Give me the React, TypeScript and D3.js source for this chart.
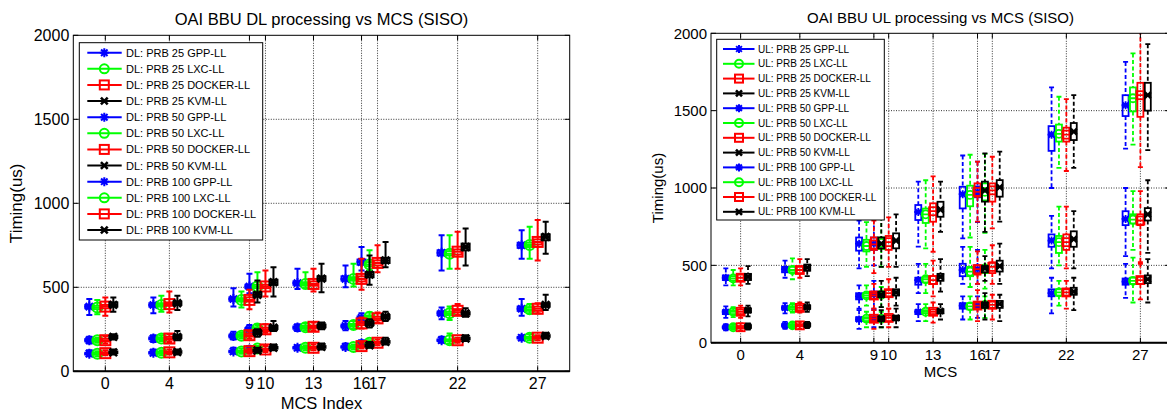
import React from 'react';
import * as d3 from 'd3';

// ---------------- data ----------------
const MCS_VALUES = [0, 4, 9, 10, 13, 16, 17, 22, 27];
const Y_TICKS = [0, 500, 1000, 1500, 2000];
const PRB_LEVELS = [25, 50, 100];
const PLATFORMS = ['GPP-LL', 'LXC-LL', 'DOCKER-LL', 'KVM-LL'];
const PLATFORM_COLORS = ['#0000ff', '#00ff00', '#ff0000', '#000000'];
const PLATFORM_OFFSETS = [-1, -0.5, 0, 0.5];

// each box: [whiskerLow, q1, median, q3, whiskerHigh], one per MCS value
// ---- DL ----
const DL_PRB25_GPP = [[90,100,105,110,125],[95,105,110,115,130],[105,113,118,123,140],[115,125,130,135,150],[125,135,140,145,155],[130,140,145,150,165],[150,160,165,170,185],[170,180,185,190,205],[185,195,200,205,215]];
const DL_PRB25_LXC = [[90,100,105,110,120],[95,105,110,115,125],[105,113,118,123,135],[120,130,135,140,150],[125,135,140,145,155],[130,140,145,150,160],[155,165,170,175,185],[165,180,185,190,225],[185,195,200,205,220]];
const DL_PRB25_DOCKER = [[95,103,108,113,125],[100,108,113,118,130],[105,115,120,125,135],[115,125,130,135,150],[125,135,140,145,160],[135,145,150,155,170],[155,165,170,175,190],[170,180,185,190,200],[185,195,200,205,215]];
const DL_PRB25_KVM = [[100,108,113,118,130],[100,110,115,120,130],[110,118,123,128,140],[125,135,140,145,160],[130,140,145,150,165],[140,150,155,160,175],[160,170,175,180,200],[180,190,195,200,215],[195,205,210,215,230]];

const DL_PRB50_GPP = [[165,178,185,192,205],[175,190,195,202,215],[190,202,210,218,235],[225,242,250,258,275],[240,253,260,267,280],[245,262,270,278,300],[290,310,318,326,345],[310,335,345,355,380],[330,360,372,385,430]];
const DL_PRB50_LXC = [[170,178,185,192,200],[180,190,195,202,215],[195,205,212,220,230],[235,245,255,262,275],[245,255,262,270,285],[255,268,275,282,300],[305,315,325,332,350],[305,335,345,355,385],[345,360,370,382,400]];
const DL_PRB50_DOCKER = [[165,178,185,195,210],[175,188,195,205,220],[195,208,215,225,240],[230,240,250,260,280],[245,258,265,272,290],[255,275,285,295,320],[290,305,315,325,350],[335,350,360,370,400],[345,360,372,385,405]];
const DL_PRB50_KVM = [[190,198,205,212,220],[185,198,205,215,240],[205,222,230,240,250],[240,252,260,270,300],[250,262,270,278,290],[260,275,285,295,310],[300,315,325,335,355],[325,338,345,352,375],[365,385,395,405,455]];

const DL_PRB100_GPP = [[335,375,385,395,430],[345,385,395,405,440],[385,420,430,440,495],[465,495,505,515,580],[490,515,525,535,610],[500,540,550,565,630],[600,635,650,665,740],[600,690,705,720,810],[670,735,750,765,840]];
const DL_PRB100_LXC = [[340,370,380,390,425],[355,385,395,405,450],[380,415,425,435,475],[470,495,505,515,590],[495,510,520,530,590],[505,540,550,560,640],[600,625,635,650,720],[610,690,700,715,810],[670,740,752,765,860]];
const DL_PRB100_DOCKER = [[330,375,385,395,440],[350,390,400,410,475],[370,415,425,440,485],[445,495,505,515,600],[475,510,520,535,610],[485,535,550,565,670],[590,630,645,660,750],[610,695,712,725,830],[660,755,770,785,900]];
const DL_PRB100_KVM = [[355,385,395,410,440],[365,395,405,415,450],[410,445,455,470,540],[445,515,530,545,620],[470,540,552,565,640],[515,560,575,590,690],[620,645,660,675,770],[630,720,740,760,850],[700,780,800,815,890]];

// ---- UL ----
const UL_PRB25_GPP = [[80,93,100,107,120],[90,105,112,120,135],[90,140,150,165,210],[100,140,155,170,210],[140,185,200,210,250],[150,220,240,255,300],[160,225,245,260,300],[190,300,320,345,420],[290,375,395,415,510]];
const UL_PRB25_LXC = [[85,93,100,107,115],[95,105,112,120,130],[100,140,155,165,200],[100,145,155,170,200],[140,190,200,210,250],[150,215,235,255,300],[160,230,245,260,300],[240,305,325,345,400],[260,380,400,420,550]];
const UL_PRB25_DOCKER = [[80,93,100,108,125],[90,105,112,120,135],[90,140,155,170,210],[100,140,160,175,220],[130,185,200,215,260],[140,220,240,260,340],[150,225,245,265,310],[220,305,325,345,400],[280,380,405,425,510]];
const UL_PRB25_KVM = [[85,97,105,112,125],[95,108,115,122,135],[100,140,155,170,210],[100,145,160,175,220],[150,190,205,215,250],[150,225,245,260,320],[140,225,250,270,310],[210,310,330,355,420],[260,385,410,435,540]];

const UL_PRB50_GPP = [[160,185,200,210,235],[190,215,225,235,255],[220,280,300,320,370],[220,300,315,330,400],[320,375,405,420,510],[380,430,470,510,620],[380,450,475,500,600],[480,620,660,700,820],[560,760,800,850,1000]];
const UL_PRB50_LXC = [[165,185,200,210,230],[195,215,225,235,255],[240,290,305,320,370],[230,300,310,325,360],[320,390,410,425,510],[360,430,460,490,620],[350,450,480,495,600],[500,580,650,690,880],[600,770,795,830,980]];
const UL_PRB50_DOCKER = [[160,185,200,215,240],[195,210,225,240,260],[220,285,305,320,380],[220,300,320,340,410],[300,380,405,430,530],[380,440,475,500,590],[380,450,490,520,630],[480,600,650,700,880],[520,760,790,830,980]];
const UL_PRB50_KVM = [[170,195,210,220,240],[200,220,230,240,260],[230,295,310,330,400],[240,305,325,345,420],[330,400,425,445,540],[400,455,480,495,560],[380,460,495,530,640],[480,620,670,720,850],[580,790,830,870,1050]];

const UL_PRB100_GPP = [[370,405,420,435,480],[420,455,475,490,530],[480,595,640,680,790],[500,600,640,680,800],[621,793,845,890,1041],[675,868,960,1008,1210],[780,940,975,1010,1170],[1000,1240,1345,1400,1650],[1255,1465,1535,1600,1815]];
const UL_PRB100_LXC = [[370,400,415,430,470],[410,455,470,490,545],[490,590,625,665,780],[490,605,645,680,815],[610,774,830,867,1050],[680,882,955,1015,1215],[710,920,975,1030,1220],[1130,1300,1350,1410,1590],[1280,1495,1580,1650,1870]];
const UL_PRB100_DOCKER = [[370,400,420,440,480],[420,450,470,490,540],[450,600,635,680,790],[490,600,650,690,810],[588,782,850,901,1075],[782,944,975,1030,1170],[739,912,985,1030,1202],[1110,1300,1345,1390,1575],[1135,1460,1600,1680,2100]];
const UL_PRB100_KVM = [[380,405,425,445,495],[430,465,485,505,540],[490,610,640,680,815],[490,610,660,707,829],[717,814,860,911,1041],[717,912,985,1041,1224],[782,944,1005,1051,1235],[1130,1310,1365,1420,1600],[1245,1500,1600,1680,1930]];

const DL_SERIES = [
  [DL_PRB25_GPP, DL_PRB25_LXC, DL_PRB25_DOCKER, DL_PRB25_KVM],
  [DL_PRB50_GPP, DL_PRB50_LXC, DL_PRB50_DOCKER, DL_PRB50_KVM],
  [DL_PRB100_GPP, DL_PRB100_LXC, DL_PRB100_DOCKER, DL_PRB100_KVM],
];
const UL_SERIES = [
  [UL_PRB25_GPP, UL_PRB25_LXC, UL_PRB25_DOCKER, UL_PRB25_KVM],
  [UL_PRB50_GPP, UL_PRB50_LXC, UL_PRB50_DOCKER, UL_PRB50_KVM],
  [UL_PRB100_GPP, UL_PRB100_LXC, UL_PRB100_DOCKER, UL_PRB100_KVM],
];

// ---------------- layout ----------------
const FONT = '"Liberation Sans", Arial, Helvetica, sans-serif';

const DL_CFG = {
  id: 'dl', prefix: 'DL', left: 73.3, right: 569.7, top: 35.3, bottom: 371.3,
  title: 'OAI BBU DL processing vs MCS (SISO)', xlabel: 'MCS Index',
  titleSize: 16.5, tickSize: 16, labelSize: 16.5, ylabelSize: 17,
  titleY: 24.5, xTickY: 389, xlabelY: 408.5, ylabelX: 22,
  legend: { x: 79.3, y: 42.7, w: 183.4, h: 197.3, first: 52.7, step: 16.12, font: 11, ms: 9,
            lx1: 8, lx2: 42.4, mx: 25, tx: 46.7 },
  boxW: 8, capW: 3, sw: 2, ms: 10, dashed: false,
};
const UL_CFG = {
  id: 'ul', prefix: 'UL', left: 711, right: 1170, top: 33.3, bottom: 342.7,
  title: 'OAI BBU UL processing vs MCS (SISO)', xlabel: 'MCS',
  titleSize: 15, tickSize: 15, labelSize: 15, ylabelSize: 15,
  titleY: 22.5, xTickY: 359.5, xlabelY: 377, ylabelX: 663,
  legend: { x: 716.7, y: 39.3, w: 167.6, h: 180.7, first: 49, step: 14.8, font: 10, ms: 8,
            lx1: 6.3, lx2: 37.8, mx: 22.3, tx: 41.3 },
  boxW: 6, capW: 2.5, sw: 1.8, ms: 8, dashed: true,
};

function Marker({ kind, cx, cy, size, color, sw }: any) {
  const h = size / 2;
  if (kind === 0) {
    const d = h * 0.72;
    return (
      <path
        d={`M${cx - h},${cy}L${cx + h},${cy}M${cx},${cy - h}L${cx},${cy + h}M${cx - d},${cy - d}L${cx + d},${cy + d}M${cx - d},${cy + d}L${cx + d},${cy - d}`}
        stroke={color} strokeWidth={sw} fill="none"
      />
    );
  }
  if (kind === 1) return <circle cx={cx} cy={cy} r={h} stroke={color} strokeWidth={sw} fill="none" />;
  if (kind === 2) return <rect x={cx - h} y={cy - h} width={size} height={size} stroke={color} strokeWidth={sw} fill="none" />;
  const d = h * 0.75;
  return (
    <path d={`M${cx - d},${cy - d}L${cx + d},${cy + d}M${cx - d},${cy + d}L${cx + d},${cy - d}`}
      stroke={color} strokeWidth={sw + 0.6} fill="none" />
  );
}

function Panel({ cfg, series }: any) {
  const x = d3.scaleLinear().domain([-2, 29]).range([cfg.left, cfg.right]);
  const y = d3.scaleLinear().domain([0, 2000]).range([cfg.bottom, cfg.top]);
  const clipId = `clip-${cfg.id}`;
  const tickLen = 5;
  const lg = cfg.legend;

  const boxes: any[] = [];
  series.forEach((prbSeries: any, pi: number) => {
    prbSeries.forEach((rows: any, k: number) => {
      const color = PLATFORM_COLORS[k];
      rows.forEach((b: number[], i: number) => {
        const cx = x(MCS_VALUES[i] + PLATFORM_OFFSETS[k]);
        const [lo, q1, med, q3, hi] = b;
        const dash = cfg.dashed ? '4,2.5' : undefined;
        boxes.push(
          <g key={`${pi}-${k}-${i}`}>
            <line x1={cx} x2={cx} y1={y(hi)} y2={y(q3)} stroke={color} strokeWidth={cfg.sw} strokeDasharray={dash} />
            <line x1={cx} x2={cx} y1={y(q1)} y2={y(lo)} stroke={color} strokeWidth={cfg.sw} strokeDasharray={dash} />
            <line x1={cx - cfg.capW} x2={cx + cfg.capW} y1={y(hi)} y2={y(hi)} stroke={color} strokeWidth={cfg.sw} />
            <line x1={cx - cfg.capW} x2={cx + cfg.capW} y1={y(lo)} y2={y(lo)} stroke={color} strokeWidth={cfg.sw} />
            <rect x={cx - cfg.boxW / 2} y={y(q3)} width={cfg.boxW} height={Math.max(1, y(q1) - y(q3))}
              fill="none" stroke={color} strokeWidth={cfg.sw} />
            <line x1={cx - cfg.boxW / 2} x2={cx + cfg.boxW / 2} y1={y(med)} y2={y(med)} stroke={color} strokeWidth={cfg.sw} />
            <Marker kind={k} cx={cx} cy={y(med)} size={cfg.ms} color={color} sw={cfg.sw} />
          </g>
        );
      });
    });
  });

  const legendEntries: any[] = [];
  PRB_LEVELS.forEach((prb, pi) => {
    PLATFORMS.forEach((pl, k) => {
      const idx = pi * 4 + k;
      const ly = lg.first + idx * lg.step;
      legendEntries.push(
        <g key={idx}>
          <line x1={lg.x + lg.lx1} x2={lg.x + lg.lx2} y1={ly} y2={ly} stroke={PLATFORM_COLORS[k]} strokeWidth={2} />
          <Marker kind={k} cx={lg.x + lg.mx} cy={ly} size={lg.ms} color={PLATFORM_COLORS[k]} sw={2} />
          <text x={lg.x + lg.tx} y={ly + lg.font * 0.36} fontSize={lg.font} fontFamily={FONT} fill="#000">
            {`${cfg.prefix}: PRB ${prb} ${pl}`}
          </text>
        </g>
      );
    });
  });

  const midX = (cfg.left + cfg.right) / 2;
  const midY = (cfg.top + cfg.bottom) / 2;

  return (
    <g>
      <defs>
        <clipPath id={clipId}>
          <rect x={cfg.left} y={cfg.top} width={cfg.right - cfg.left} height={cfg.bottom - cfg.top} />
        </clipPath>
      </defs>
      <rect x={cfg.left} y={cfg.top} width={cfg.right - cfg.left} height={cfg.bottom - cfg.top} fill="#fff" />
      {MCS_VALUES.map((m) => (
        <line key={`gx${m}`} x1={x(m)} x2={x(m)} y1={cfg.top} y2={cfg.bottom} stroke="#000" strokeOpacity={0.8}
          strokeWidth={1} strokeDasharray="1,1.5" />
      ))}
      {Y_TICKS.slice(1, -1).map((v) => (
        <line key={`gy${v}`} x1={cfg.left} x2={cfg.right} y1={y(v)} y2={y(v)} stroke="#000" strokeOpacity={0.8}
          strokeWidth={1} strokeDasharray="1,1.5" />
      ))}
      <g clipPath={`url(#${clipId})`}>{boxes}</g>
      <rect x={cfg.left} y={cfg.top} width={cfg.right - cfg.left} height={cfg.bottom - cfg.top} fill="none" stroke="#000" strokeWidth={1} />
      <line x1={cfg.left} x2={cfg.right} y1={cfg.bottom} y2={cfg.bottom} stroke="#000" strokeWidth={2} />
      {MCS_VALUES.map((m) => (
        <g key={`tx${m}`}>
          <line x1={x(m)} x2={x(m)} y1={cfg.bottom} y2={cfg.bottom - tickLen} stroke="#000" />
          <line x1={x(m)} x2={x(m)} y1={cfg.top} y2={cfg.top + tickLen} stroke="#000" />
          <text x={x(m)} y={cfg.xTickY} textAnchor="middle" fontSize={cfg.tickSize} fontFamily={FONT}>{m}</text>
        </g>
      ))}
      {Y_TICKS.map((v) => (
        <g key={`ty${v}`}>
          <line x1={cfg.left} x2={cfg.left + tickLen} y1={y(v)} y2={y(v)} stroke="#000" />
          <line x1={cfg.right} x2={cfg.right - tickLen} y1={y(v)} y2={y(v)} stroke="#000" />
          <text x={cfg.left - 4} y={y(v) + cfg.tickSize * 0.36} textAnchor="end" fontSize={cfg.tickSize} fontFamily={FONT}>{v}</text>
        </g>
      ))}
      <rect x={lg.x} y={lg.y} width={lg.w} height={lg.h} fill="#fff" stroke="#000" strokeWidth={1} />
      {legendEntries}
      <text x={midX} y={cfg.titleY} textAnchor="middle" fontSize={cfg.titleSize} fontFamily={FONT}>{cfg.title}</text>
      <text x={midX} y={cfg.xlabelY} textAnchor="middle" fontSize={cfg.labelSize} fontFamily={FONT}>{cfg.xlabel}</text>
      <text transform={`translate(${cfg.ylabelX},${midY}) rotate(-90)`} textAnchor="middle" fontSize={cfg.ylabelSize} fontFamily={FONT}>Timing(us)</text>
    </g>
  );
}

export default function App() {
  return (
    <svg width={1167} height={412} style={{ position: 'absolute', left: 0, top: 0, background: '#fff' }}>
      <rect x={0} y={0} width={1167} height={412} fill="#fff" />
      <Panel cfg={DL_CFG} series={DL_SERIES} />
      <Panel cfg={UL_CFG} series={UL_SERIES} />
    </svg>
  );
}
